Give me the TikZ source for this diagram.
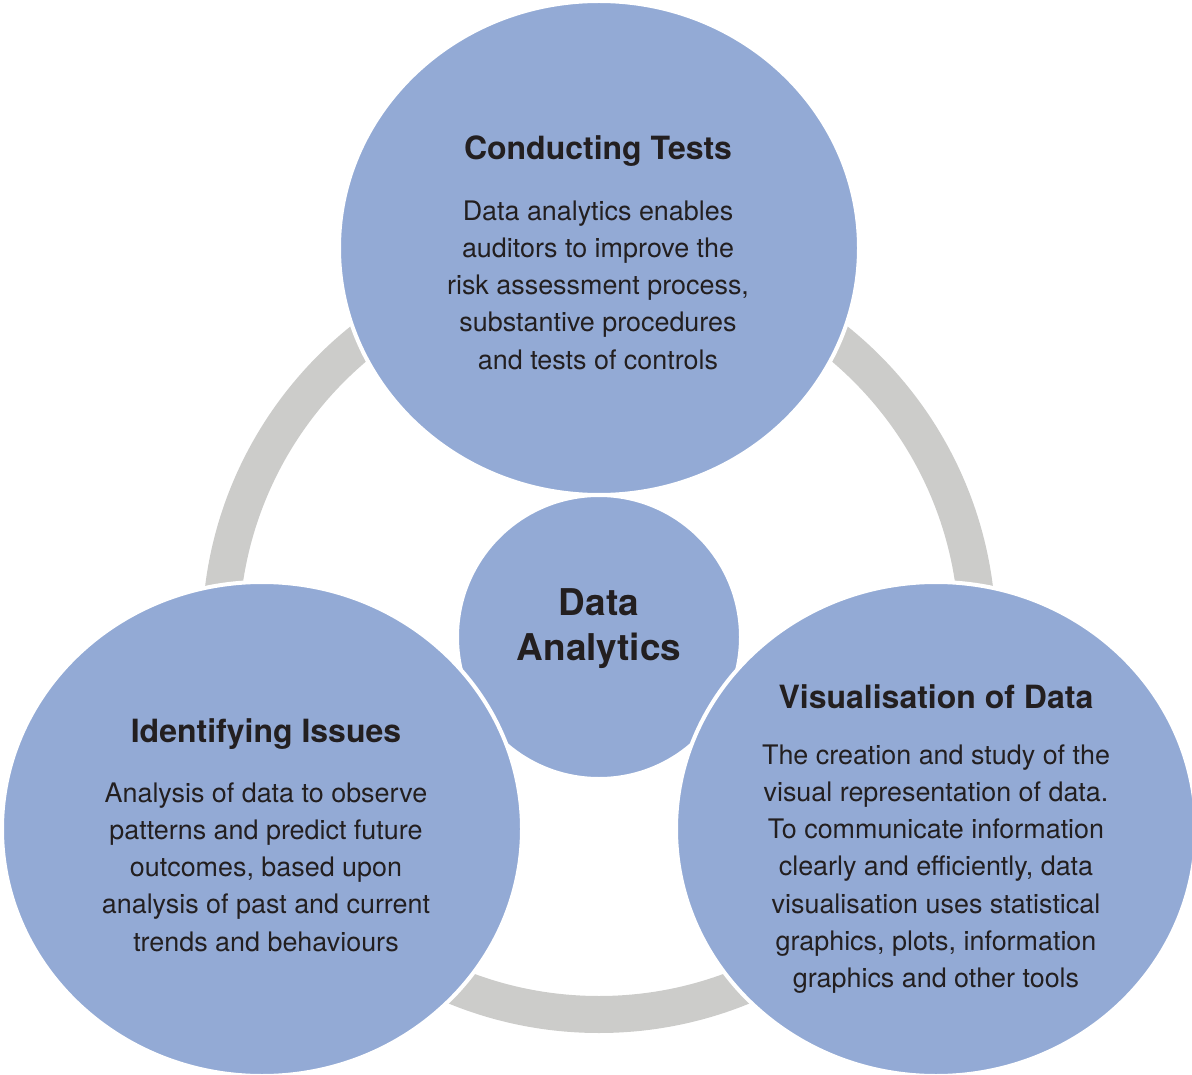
\documentclass[tikz,border=0pt]{standalone}
\usepackage{fontspec}
\setmainfont{TeX Gyre Heros}
\usetikzlibrary{shapes.geometric}
\definecolor{bubble}{HTML}{93AAD5}
\definecolor{track}{HTML}{CCCCCA}
\definecolor{ink}{HTML}{231F20}
\begin{document}
\begin{tikzpicture}[x=1pt,y=-1pt,
  bigcircle/.style={ellipse, fill=bubble, draw=white, line width=4pt,
    minimum width=520pt, minimum height=494pt, inner sep=0pt},
  hubcircle/.style={circle, fill=bubble, draw=white, line width=4pt,
    minimum size=284pt, inner sep=0pt},
  heading/.style={font=\bfseries\fontsize{32}{36}\selectfont, text=ink, inner sep=0pt},
  body/.style={font=\fontsize{26.9}{37.3}\selectfont, text=ink, align=center, inner sep=0pt},
  hubtext/.style={font=\bfseries\fontsize{36.9}{45}\selectfont, text=ink, align=center, inner sep=0pt},
]
\useasboundingbox (0,0) rectangle (1192,1075);
% grey track linking the three topics
\draw[track, line width=37pt] (599,636) circle[radius=378.5pt];
% central hub
\node[hubcircle] (hub) at (599,637) {};
% the three topic circles
\node[bigcircle] (tests) at (599,248) {};
\node[bigcircle] (issues) at (262,829) {};
\node[bigcircle] (visual) at (936,829) {};
% labels
\node[hubtext] (hublabel) at (599,629) {Data\\Analytics};
\node[heading] (testshead) at (598,151) {Conducting Tests};
\node[body] (testsbody) at (598,285) {Data analytics enables\\auditors to improve the\\risk assessment process,\\substantive procedures\\and tests of controls};
\node[heading] (issueshead) at (266,734) {Identifying Issues};
\node[body] (issuesbody) at (266,867) {Analysis of data to observe\\patterns and predict future\\outcomes, based upon\\analysis of past and current\\trends and behaviours};
\node[heading] (visualhead) at (936,697) {Visualisation of Data};
\node[body] (visualbody) at (936,869) {The creation and study of the\\visual representation of data.\\To communicate information\\clearly and efficiently, data\\visualisation uses statistical\\graphics, plots, information\\graphics and other tools};
\end{tikzpicture}
\end{document}
